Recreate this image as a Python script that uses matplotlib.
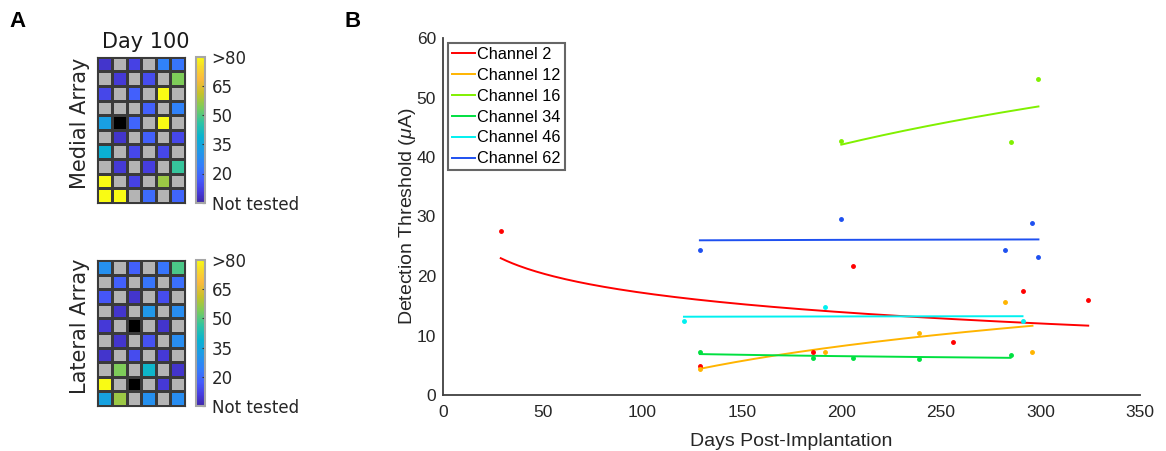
import numpy as np
import matplotlib
matplotlib.use("Agg")
import matplotlib.pyplot as plt
from matplotlib.colors import LinearSegmentedColormap, Normalize

# ---------------- data ----------------
G = np.nan   # gray cell (not a stimulating electrode)
K = -1.0     # black cell
Y = 90.0     # >80

medial = [
    [9, G, 12, G, 25, 22],
    [G, 10, G, 14, G, 54],
    [13, G, 18, G, Y, G],
    [G, G, G, 18, G, 25],
    [33, K, 19, G, Y, G],
    [G, 9, G, 18, G, 13],
    [38, G, 13, G, 13, G],
    [G, 10, G, 11, G, 47],
    [Y, G, 12, G, 57, G],
    [Y, Y, G, 20, G, 19],
]
lateral = [
    [29, G, 18, G, 22, 49],
    [G, 18, G, 22, G, 21],
    [16, G, 9, G, 14, G],
    [G, 9, G, 31, G, 28],
    [10, G, K, G, 9, G],
    [G, 9, G, 15, G, 28],
    [9, G, 14, G, 10, G],
    [G, 54, G, 40, G, 9],
    [Y, G, K, G, 10, G],
    [34, 57, G, 29, G, 28],
]
cbar_ticks = [5, 20, 35, 50, 65, 80]
cbar_labels = ["Not tested", "20", "35", "50", "65", ">80"]

channels = ["Channel 2", "Channel 12", "Channel 16", "Channel 34", "Channel 46", "Channel 62"]
days = [
    [29, 129, 186, 206, 256, 291, 324],
    [129, 192, 239, 282, 296],
    [200, 285, 299],
    [129, 186, 206, 239, 285],
    [121, 192, 291],
    [129, 200, 282, 296, 299],
]
thresholds = [
    [27.5, 4.9, 7.2, 21.7, 8.9, 17.5, 15.9],
    [4.3, 7.2, 10.5, 15.7, 7.2],
    [42.7, 42.5, 53.1],
    [7.2, 6.3, 6.3, 6.0, 6.8],
    [12.4, 14.8, 12.4],
    [24.4, 29.6, 24.4, 28.9, 23.2],
]
colors = ["#ff0000", "#ffb400", "#80f000", "#00e040", "#00f0f0", "#1e50f0"]

# ---------------- style ----------------
W, H = 1166, 451
plt.rcParams['mathtext.fontset'] = 'custom'
plt.rcParams['mathtext.it'] = 'Liberation Sans:italic'
plt.rcParams['mathtext.rm'] = 'Liberation Sans'

anchors = [
    (0.00, (0.243, 0.150, 0.660)),
    (0.08, (0.275, 0.240, 0.880)),
    (0.16, (0.270, 0.360, 0.990)),
    (0.25, (0.200, 0.490, 0.990)),
    (0.35, (0.120, 0.600, 0.910)),
    (0.45, (0.030, 0.700, 0.820)),
    (0.55, (0.180, 0.770, 0.640)),
    (0.65, (0.480, 0.800, 0.360)),
    (0.75, (0.780, 0.760, 0.160)),
    (0.85, (0.990, 0.730, 0.240)),
    (0.93, (0.970, 0.850, 0.170)),
    (1.00, (0.976, 0.984, 0.080)),
]
cmap = LinearSegmentedColormap.from_list("parula_like", anchors, N=256)
cmap.set_bad("#b4b4b4")
cmap.set_under("black")
cmap.set_over(anchors[-1][1])
norm = Normalize(vmin=5, vmax=80)

fig = plt.figure(figsize=(W / 100, H / 100), dpi=100)


def px_axes(x0, y0, x1, y1):
    return fig.add_axes([x0 / W, 1 - y1 / H, (x1 - x0) / W, (y1 - y0) / H])


def heat(grid, top):
    ax = px_axes(97.3, top, 185, top + 146)
    data = np.ma.masked_invalid(np.array(grid, dtype=float))
    m = ax.pcolormesh(data, cmap=cmap, norm=norm, edgecolors="#3a3a3a", linewidth=0.8)
    ax.set_xlim(0, 6)
    ax.set_ylim(10, 0)
    ax.set_xticks([])
    ax.set_yticks([])
    for s in ax.spines.values():
        s.set_color("#3a3a3a")
        s.set_linewidth(0.8)
    cax = px_axes(195.7, top, 204.7, top + 146)
    cb = fig.colorbar(m, cax=cax, ticks=cbar_ticks)
    cb.ax.set_yticklabels(cbar_labels)
    cb.ax.tick_params(direction="in", length=2, width=0.8, color="#333333",
                      labelsize=12, pad=5, labelcolor="#262626")
    cb.outline.set_edgecolor("#a6a6a6")
    cb.outline.set_linewidth(1.5)
    for t in cb.ax.get_yticklabels():
        t.set_fontfamily("DejaVu Sans")
    return ax


heat(medial, 56.7)
heat(lateral, 260)

fig.text(146 / W, 1 - 41.5 / H, "Day 100", ha="center", va="center", fontsize=15,
         family="DejaVu Sans", color="#1a1a1a")
fig.text(80 / W, 1 - 123 / H, "Medial Array", ha="center", va="center", rotation=90,
         fontsize=15, family="DejaVu Sans", color="#262626")
fig.text(80 / W, 1 - 326 / H, "Lateral Array", ha="center", va="center", rotation=90,
         fontsize=15, family="DejaVu Sans", color="#262626")

fig.text(9 / W, 1 - 11 / H, "A", ha="left", va="top", fontsize=16, fontweight="bold",
         family="Liberation Sans")
fig.text(345 / W, 1 - 11 / H, "B", ha="left", va="top", fontsize=16, fontweight="bold",
         family="Liberation Sans")

# ---------------- panel B ----------------
ax = px_axes(443, 38, 1140, 395)
handles = []
for name, xs, ys, c in zip(channels, days, thresholds, colors):
    xs = np.array(xs, dtype=float)
    ys = np.array(ys, dtype=float)
    ax.plot(xs, ys, ".", color=c, ms=5, zorder=3)
    coef = np.polyfit(np.log(xs), ys, 1)
    xf = np.linspace(xs.min(), xs.max(), 200)
    h, = ax.plot(xf, np.polyval(coef, np.log(xf)), "-", color=c, lw=1.4, label=name)
    handles.append(h)

ax.set_xlim(0, 350)
ax.set_ylim(0, 60)
ax.set_xticks(np.arange(0, 351, 50))
ax.set_yticks(np.arange(0, 61, 10))
for s in ["top", "right"]:
    ax.spines[s].set_visible(False)
for s in ["left", "bottom"]:
    ax.spines[s].set_color("#404040")
    ax.spines[s].set_linewidth(1.3)
ax.tick_params(length=0, labelsize=12.5, labelcolor="#262626")
ax.tick_params(axis="x", pad=7.5)
ax.tick_params(axis="y", pad=5)
for t in ax.get_xticklabels() + ax.get_yticklabels():
    t.set_fontfamily("Liberation Sans")
ax.set_xlabel("Days Post-Implantation", fontsize=14, family="Liberation Sans",
              color="#262626", labelpad=9)
ax.set_ylabel(r"Detection Threshold ($\mu$A)", fontsize=14, family="Liberation Sans",
              color="#262626", labelpad=-1)

leg = ax.legend(handles=handles, loc="upper left", bbox_to_anchor=(0.007, 0.986),
                borderaxespad=0, frameon=True, fancybox=False,
                prop={"family": "Liberation Sans", "size": 11.7},
                handlelength=1.4, handletextpad=0.15, labelspacing=0.36,
                borderpad=0.25)
leg.get_frame().set_edgecolor("#404040")
leg.get_frame().set_linewidth(1.5)

fig.savefig("out.png", dpi=100)
